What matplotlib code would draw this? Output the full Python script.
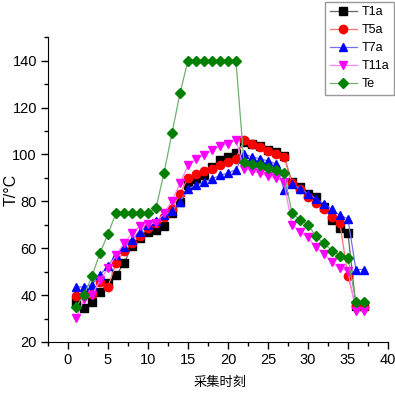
import numpy as np
import matplotlib.pyplot as plt
from matplotlib.ticker import MultipleLocator

# sampling moments 1..37
t = np.arange(1, 38)

T1a = [37.2, 34.6, 37.0, 41.3, 45.2, 48.5, 53.5, 61.0, 64.4, 66.7,
       67.7, 69.5, 74.8, 79.5, 86.8, 89.5, 91.0, 94.6, 97.4, 98.9,
       100.6, 105.2, 104.5, 103.5, 102.0, 101.0, 99.5, 88.2, 86.0, 83.3,
       81.8, 77.6, 72.0, 68.5, 66.5, 35.5, 35.5]
T5a = [39.6, 40.0, 40.4, 45.7, 43.6, 53.5, 58.7, 62.0, 65.2, 68.5,
       70.6, 73.3, 76.9, 83.0, 90.0, 91.8, 92.8, 93.9, 95.3, 96.7,
       98.2, 106.0, 104.5, 103.1, 101.4, 100.3, 99.0, 88.0, 85.4, 81.8,
       79.3, 76.5, 73.4, 70.6, 48.1, 35.3, 35.0]
T7a = [43.4, 43.5, 44.5, 48.5, 52.5, 57.2, 60.3, 63.7, 67.0, 70.0,
       71.6, 74.0, 75.9, 79.7, 85.4, 86.8, 88.2, 89.6, 91.0, 92.0,
       93.5, 100.3, 98.9, 98.2, 97.2, 96.0, 85.0, 87.2, 85.4, 83.3,
       81.1, 79.0, 76.5, 74.0, 72.6, 50.9, 50.9]
T11a = [30.1, 38.2, 40.0, 46.4, 51.4, 57.0, 62.0, 66.3, 69.4, 70.5,
        70.8, 74.8, 80.2, 87.6, 95.3, 98.0, 99.6, 101.7, 103.4, 104.5,
        106.2, 93.9, 92.9, 92.0, 90.6, 90.0, 88.3, 70.0, 66.9, 64.6,
        60.4, 57.7, 54.0, 51.4, 50.2, 33.1, 33.0]
Te = [35.0, 40.0, 48.0, 58.0, 66.0, 75.0, 75.0, 75.0, 75.0, 75.0,
      77.0, 92.0, 109.0, 126.0, 140.0, 140.0, 140.0, 140.0, 140.0, 140.0,
      140.0, 96.7, 96.0, 95.3, 94.2, 93.2, 92.0, 75.0, 72.0, 70.1,
      65.0, 62.0, 59.0, 56.8, 56.0, 36.9, 36.9]

plt.rcParams['font.family'] = ['Liberation Sans Narrow', 'Liberation Sans', 'DejaVu Sans']

fig = plt.figure(figsize=(3.95, 4.13), dpi=100)
ax = fig.add_axes([0.1215, 0.172, 0.8605, 0.738])

ms = 5.5
# (series, marker colour, lighter line colour, marker, size, label)
series = [
    (T1a, 'black', '#666666', 's', ms, 'T1a'),
    (T5a, 'red', '#ff7070', 'o', ms + 0.5, 'T5a'),
    (T7a, 'blue', '#7070ff', '^', ms + 0.5, 'T7a'),
    (T11a, 'magenta', '#ff80ff', 'v', ms + 0.5, 'T11a'),
    (Te, 'green', '#70b070', 'D', ms - 0.5, 'Te'),
]
for y, c, lc, m, s, lab in series:
    ax.plot(t, y, color=lc, lw=0.9, marker=m, ms=s, mfc=c, mec=c, label=lab)

ax.set_xlim(-2.5, 40)
ax.set_ylim(20, 150)
ax.xaxis.set_major_locator(MultipleLocator(5))
ax.xaxis.set_minor_locator(MultipleLocator(2.5))
ax.yaxis.set_major_locator(MultipleLocator(20))
ax.yaxis.set_minor_locator(MultipleLocator(10))
ax.tick_params(which='major', direction='out', length=5, width=1, labelsize=10.5, pad=3)
ax.tick_params(which='minor', direction='out', length=3, width=1)
ax.spines['top'].set_visible(False)
ax.spines['right'].set_visible(False)

ax.set_ylabel('T/°C', fontsize=11.5)
ax.yaxis.set_label_coords(-0.085, 0.5)
ax.set_xlabel('采集时刻', fontsize=9.5, family=['Noto Sans CJK SC', 'DejaVu Sans'])
ax.xaxis.set_label_coords(0.505, -0.11)

leg = ax.legend(loc='upper right', bbox_to_anchor=(0.997, 0.995),
                bbox_transform=fig.transFigure,
                prop={'family': ['Liberation Sans', 'DejaVu Sans'], 'size': 9},
                frameon=True, fancybox=False, edgecolor='gray', handlelength=2.15,
                borderpad=0.35, labelspacing=0.48, handletextpad=0.4,
                borderaxespad=0)
leg.get_frame().set_linewidth(1)

fig.savefig('out.png', dpi=100)
